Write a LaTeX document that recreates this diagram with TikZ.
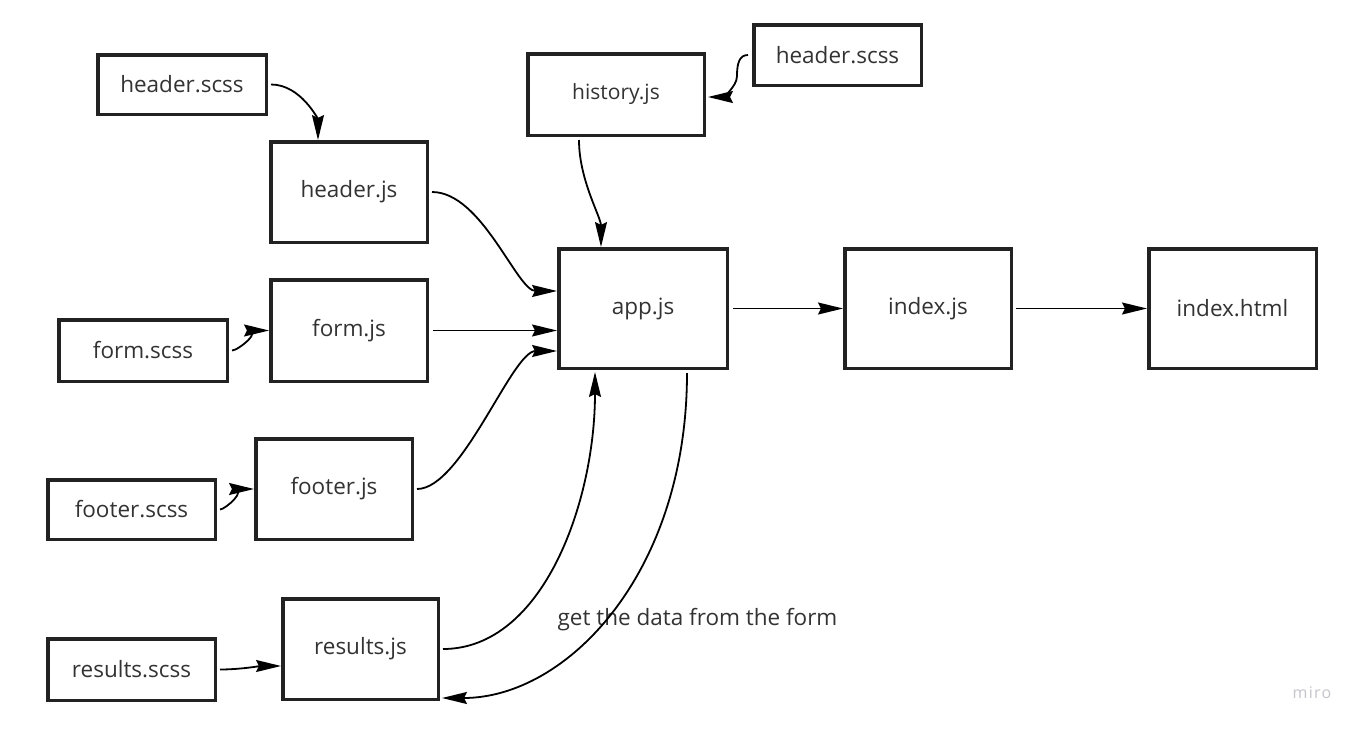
\documentclass[tikz,border=0pt]{standalone}
\usepackage{fontspec}
\setmainfont{Open Sans}
\newfontfamily\mirofont[LetterSpace=8]{Open Sans}
\usetikzlibrary{arrows.meta}
\definecolor{boxline}{HTML}{222222}
\definecolor{txt}{HTML}{333333}
\definecolor{mirogray}{HTML}{C4C4CC}
\begin{document}
\begin{tikzpicture}[x=1pt,y=-1pt,
  filebox/.style={draw=boxline,line width=3.5pt,fill=white,inner sep=0pt,text=txt,font=\fontsize{22.5}{27}\selectfont},
  conn/.style={line width=1.8pt,-{Stealth[length=25pt,width=12pt,inset=3pt]}},
  lbl/.style={text=txt,font=\fontsize{22.5}{27}\selectfont,inner sep=0pt}
]
\useasboundingbox[fill=white] (0,0) rectangle (1366,731);
% nodes
\node[filebox,minimum width=168.5pt,minimum height=59.5pt] (hsa) at (182,84.5) {header.scss};
\node[filebox,minimum width=156.5pt,minimum height=100.5pt] (hj) at (349,192) {header.js};
\node[filebox,minimum width=176.5pt,minimum height=81.5pt,font=\fontsize{21}{25}\selectfont] (hist) at (616,94.5) {history.js};
\node[filebox,minimum width=167.5pt,minimum height=60.5pt] (hsb) at (837.5,55) {header.scss};
\node[filebox,minimum width=168.5pt,minimum height=61.5pt] (fs) at (143,350.5) {form.scss};
\node[filebox,minimum width=156.5pt,minimum height=101.5pt] (fj) at (349,330.5) {form.js};
\node[filebox,minimum width=156.5pt,minimum height=100.5pt] (ftj) at (334,489) {footer.js};
\node[filebox,minimum width=167.5pt,minimum height=59.5pt] (fts) at (131.5,509.5) {footer.scss};
\node[filebox,minimum width=167.5pt,minimum height=61.5pt] (rs) at (131.5,669.5) {results.scss};
\node[filebox,minimum width=155.5pt,minimum height=100.5pt] (rj) at (360.5,649) {results.js};
\node[filebox,minimum width=168.5pt,minimum height=119.5pt] (app) at (643,308.5) {app.js};
\node[filebox,minimum width=166.5pt,minimum height=119.5pt] (idx) at (928,308.5) {index.js};
\node[filebox,minimum width=167.5pt,minimum height=119.5pt] (html) at (1232.5,308.5) {index.html};
\node[lbl] (note) at (697.5,620) {get the data from the form};
\node[text=mirogray,font=\fontsize{16}{19}\mirofont,inner sep=0pt] (miro) at (1312,693) {miro};
\coordinate (hbmid) at (737,76);
% connectors
\draw[conn] ([xshift=3pt]hsa.east) .. controls +(30,0) and +(0,-20) .. ([xshift=-31pt]hj.north);
\draw[conn] ([xshift=-4pt]hsb.west) .. controls +(-9,0) and +(0,-12) .. (hbmid) .. controls +(0,12) and +(12,0) .. ([xshift=2pt,yshift=-2.5pt]hist.east);
\draw[conn] ([xshift=-37pt,yshift=-3pt]hist.south) .. controls +(0,40) and +(0,-30) .. ([xshift=-42pt]app.north);
\draw[conn] ([xshift=3pt]hj.east) .. controls +(50,0) and +(-40,0) .. ([yshift=17.5pt]app.west);
\draw[conn] ([xshift=4pt]fj.east) -- (fj.east -| app.west);
\draw[conn] ([xshift=3pt]ftj.east) .. controls +(45,0) and +(-45,0) .. ([yshift=-42.5pt]app.west);
\draw[conn] ([xshift=3pt]fs.east) .. controls +(6,0) and +(-6,0) .. (fj.west);
\draw[conn] ([xshift=3pt]fts.east) .. controls +(5,0) and +(-5,0) .. (ftj.west);
\draw[conn] ([xshift=3pt]rs.east) .. controls +(20,0) and +(-20,0) .. ([yshift=-17pt]rj.west);
\draw[conn] ([xshift=3pt]rj.east) .. controls +(100,0) and +(0,130) .. ([xshift=-48pt,yshift=-2pt]app.south);
\draw[conn] ([xshift=44pt,yshift=-3pt]app.south) .. controls +(0,200) and +(125,0) .. ([xshift=2pt,yshift=3pt]rj.south east);
\draw[conn] ([xshift=4pt]app.east) -- (idx.west);
\draw[conn] ([xshift=3pt]idx.east) -- (html.west);
\end{tikzpicture}
\end{document}
